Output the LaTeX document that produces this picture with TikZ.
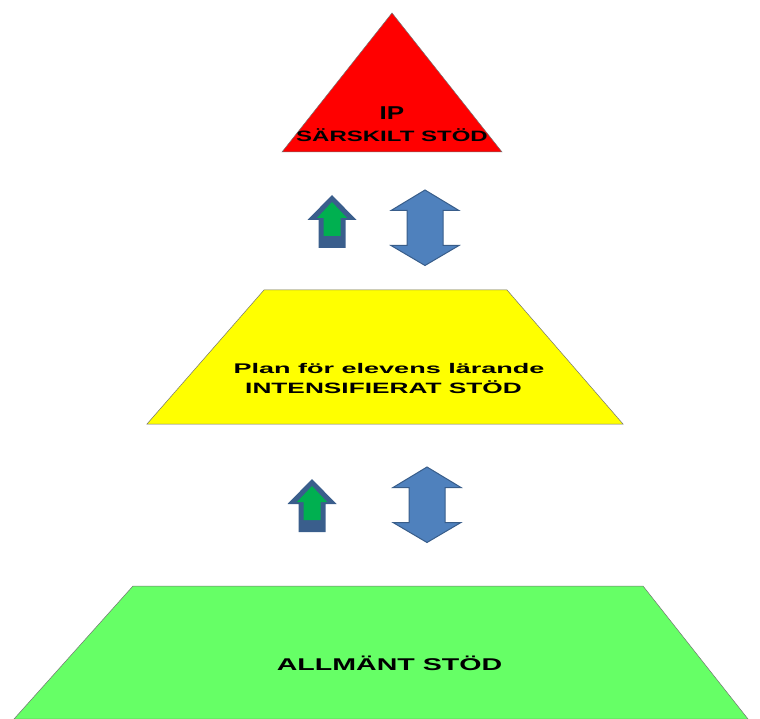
\documentclass[tikz,border=0pt]{standalone}
\usepackage{fontspec}
\setmainfont{Liberation Sans}
\definecolor{ipred}{HTML}{FF0000}
\definecolor{planyellow}{HTML}{FFFF00}
\definecolor{basegreen}{HTML}{66FF66}
\definecolor{arrowblue}{HTML}{4F81BD}
\definecolor{arrowedge}{HTML}{385D8A}
\definecolor{arrowdark}{HTML}{3A5E8C}
\definecolor{arrowgreen}{HTML}{00B050}

% small up arrow (dark with green inner), tip at #1
\newcommand\steparrow[1]{%
  \begin{scope}[shift={#1}]
    \fill[arrowdark] (0,0) -- (24.5,25) -- (13.5,25) -- (13.5,53) -- (-13.5,53) -- (-13.5,25) -- (-24.5,25) -- cycle;
    \fill[arrowgreen] (0,7) -- (15,23) -- (8.5,23) -- (8.5,41) -- (-8.5,41) -- (-8.5,23) -- (-15,23) -- cycle;
  \end{scope}}
% up-down arrow, top tip at #1
\newcommand\movearrow[1]{%
  \begin{scope}[shift={#1}]
    \draw[bigarrow] (0,0) -- (34,20.5) -- (18,20.5) -- (18,55.5) -- (34,55.5) -- (0,75.5)
      -- (-34,55.5) -- (-18,55.5) -- (-18,20.5) -- (-34,20.5) -- cycle;
  \end{scope}}

\begin{document}
\begin{tikzpicture}[x=1pt,y=-1pt,
   level/.style={draw=black!55,line width=0.5pt},
   label/.style={font=\bfseries,anchor=base,inner sep=0pt},
   bigarrow/.style={fill=arrowblue,draw=arrowedge,line width=1pt,line join=miter}]
\useasboundingbox (0,0) rectangle (760,719);

% levels
\draw[level,fill=ipred] (392,13) -- (502,152) -- (282,152) -- cycle;
\draw[level,fill=planyellow] (264,290) -- (507,290) -- (623,424) -- (147,424) -- cycle;
\draw[level,fill=basegreen] (133,586) -- (643,586) -- (748,719) -- (14,719) -- cycle;

% texts
\node[label,font=\fontsize{18.6}{20}\selectfont\bfseries,xscale=1.4] (ip) at (392,120) {IP};
\node[label,font=\fontsize{15}{17}\selectfont\bfseries,xscale=1.6] (sarskilt) at (392,142) {SÄRSKILT STÖD};
\node[label,font=\fontsize{14}{16}\selectfont\bfseries,xscale=1.93] (plan) at (389,373) {Plan för elevens lärande};
\node[label,font=\fontsize{15}{17}\selectfont\bfseries,xscale=1.75] (intens) at (383.5,393) {INTENSIFIERAT STÖD};
\node[label,font=\fontsize{17}{19}\selectfont\bfseries,xscale=1.68] (allmant) at (389.5,670.5) {ALLMÄNT STÖD};

% arrows between levels
\steparrow{(332,195)}
\movearrow{(425,190)}
\steparrow{(312,479)}
\movearrow{(427,467)}
\end{tikzpicture}
\end{document}
